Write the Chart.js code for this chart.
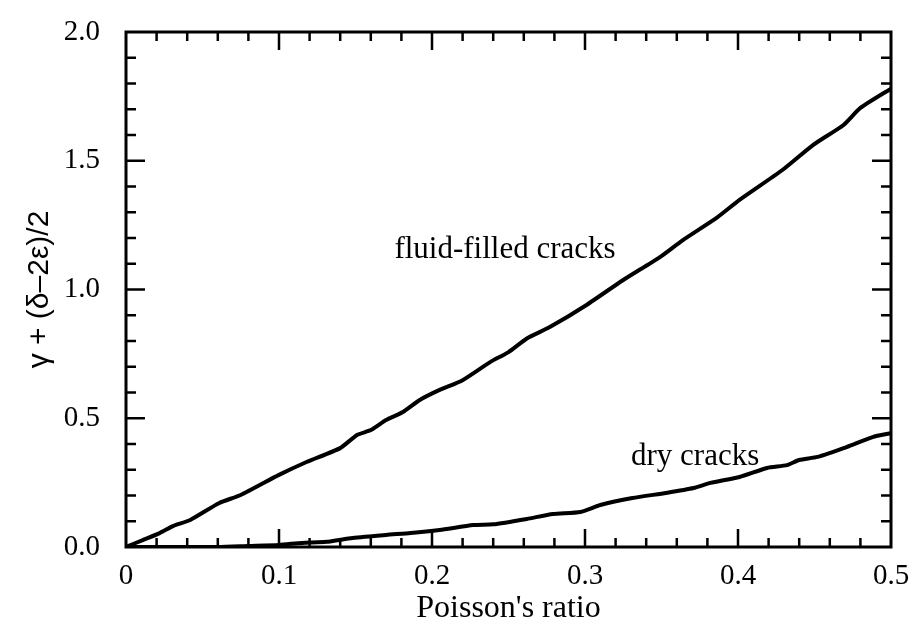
<!DOCTYPE html>
<html lang="en">
<head>
<meta charset="UTF-8">
<title>Poisson's ratio</title>
<style>
  body { margin: 0; background: #fff; }
  .wrap { width: 916px; height: 630px; }
</style>
</head>
<body>
<div class="wrap"><canvas id="chart"></canvas></div>
<script src="https://cdn.jsdelivr.net/npm/chart.js"></script>
<script>
// data
const fluidX = [0, 0.011, 0.022, 0.031, 0.042, 0.061, 0.075, 0.1, 0.118, 0.14, 0.151, 0.16, 0.17, 0.181, 0.192, 0.205, 0.22, 0.238, 0.25, 0.262, 0.277, 0.301, 0.325, 0.349, 0.364, 0.386, 0.401, 0.429, 0.449, 0.469, 0.48, 0.5];
const fluidY = [0, 0.027, 0.054, 0.082, 0.105, 0.171, 0.202, 0.28, 0.33, 0.384, 0.435, 0.454, 0.493, 0.524, 0.571, 0.61, 0.648, 0.718, 0.757, 0.81, 0.854, 0.94, 1.037, 1.126, 1.192, 1.278, 1.348, 1.464, 1.561, 1.639, 1.705, 1.78];
const dryX = [0, 0.06, 0.08, 0.1, 0.115, 0.131, 0.148, 0.17, 0.186, 0.205, 0.227, 0.24, 0.262, 0.279, 0.297, 0.31, 0.331, 0.353, 0.371, 0.382, 0.401, 0.419, 0.432, 0.44, 0.452, 0.471, 0.488, 0.5];
const dryY = [0, 0, 0.004, 0.008, 0.016, 0.02, 0.035, 0.047, 0.054, 0.066, 0.085, 0.088, 0.109, 0.128, 0.136, 0.163, 0.19, 0.21, 0.229, 0.249, 0.272, 0.307, 0.318, 0.338, 0.35, 0.388, 0.427, 0.442];

const xTickLabels = ['0', '0.1', '0.2', '0.3', '0.4', '0.5'];
const yTickLabels = ['0.0', '0.5', '1.0', '1.5', '2.0'];
const curveLabels = ['fluid-filled cracks', 'dry cracks'];

const FONT = "'Liberation Serif', 'Times New Roman', serif";
const SANS = "'Liberation Sans', Arial, sans-serif";

function toPoints(xs, ys) {
  return xs.map((x, i) => ({ x: x, y: ys[i] }));
}

// inward ticks on all four sides + box + curve labels
const frame = {
  id: 'frame',
  afterDraw(chart) {
    const ctx = chart.ctx;
    const a = chart.chartArea;
    const xs = chart.scales.x, ys = chart.scales.y;
    ctx.save();
    ctx.strokeStyle = '#000';
    ctx.lineWidth = 3;
    ctx.strokeRect(a.left, a.top, a.right - a.left, a.bottom - a.top);
    ctx.lineWidth = 2.5;
    ctx.beginPath();
    for (let i = 1; i < 25; i++) {
      const px = xs.getPixelForValue(i * 0.02);
      const len = i % 5 === 0 ? 18 : 9;
      ctx.moveTo(px, a.bottom); ctx.lineTo(px, a.bottom - len);
      ctx.moveTo(px, a.top); ctx.lineTo(px, a.top + len);
    }
    for (let i = 1; i < 20; i++) {
      const py = ys.getPixelForValue(i * 0.1);
      const len = i % 5 === 0 ? 19 : 10;
      ctx.moveTo(a.left, py); ctx.lineTo(a.left + len, py);
      ctx.moveTo(a.right, py); ctx.lineTo(a.right - len, py);
    }
    ctx.stroke();

    ctx.fillStyle = '#000';
    ctx.font = '31px ' + FONT;
    ctx.textAlign = 'center';
    ctx.textBaseline = 'middle';
    ctx.fillText(curveLabels[0], xs.getPixelForValue(0.2477), ys.getPixelForValue(1.155));
    ctx.fillText(curveLabels[1], xs.getPixelForValue(0.372), ys.getPixelForValue(0.35));
    ctx.restore();
  }
};

new Chart(document.getElementById('chart'), {
  type: 'scatter',
  data: {
    datasets: [
      { label: curveLabels[0], data: toPoints(fluidX, fluidY) },
      { label: curveLabels[1], data: toPoints(dryX, dryY) }
    ]
  },
  options: {
    responsive: true,
    maintainAspectRatio: false,
    animation: false,
    showLine: true,
    layout: { padding: { top: 32, right: 25, left: 0, bottom: 0 } },
    elements: {
      point: { radius: 0 },
      line: { borderColor: '#000', borderWidth: 4, tension: 0.2 }
    },
    plugins: { legend: { display: false }, tooltip: { enabled: false } },
    scales: {
      x: {
        type: 'linear', min: 0, max: 0.5,
        grid: { display: false, drawTicks: false },
        border: { display: false },
        afterFit(scale) {
          scale.height = 83;
          scale.paddingLeft = 0; scale.paddingRight = 0;
        },
        ticks: {
          stepSize: 0.1, padding: 12, color: '#000',
          font: { family: FONT, size: 29 },
          callback: (v) => xTickLabels[Math.round(v * 10)]
        },
        title: {
          display: true, text: "Poisson's ratio", color: '#000',
          font: { family: FONT, size: 32 }, padding: { bottom: 2 }
        }
      },
      y: {
        min: 0, max: 2,
        grid: { display: false, drawTicks: false },
        border: { display: false },
        afterFit(scale) {
          scale.width = 126;
          scale.paddingTop = 0; scale.paddingBottom = 0;
        },
        ticks: {
          stepSize: 0.5, padding: 26, color: '#000',
          font: { family: FONT, size: 29 },
          callback: (v) => yTickLabels[Math.round(v * 2)]
        },
        title: {
          display: true, text: 'γ + (δ–2ε)/2', color: '#000',
          font: { family: SANS, size: 30 }, padding: { top: 22 }
        }
      }
    }
  },
  plugins: [frame]
});
</script>
</body>
</html>
